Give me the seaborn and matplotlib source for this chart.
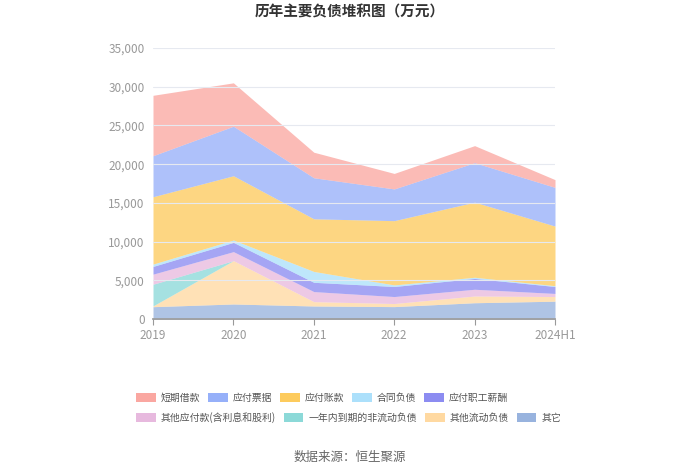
import numpy as np
import matplotlib
matplotlib.use("Agg")
import matplotlib.pyplot as plt
import seaborn as sns
from matplotlib.ticker import FuncFormatter
from matplotlib.patches import Patch

years = ["2019", "2020", "2021", "2022", "2023", "2024H1"]

# stacked bottom -> top, 单位: 万元
qita = [1590, 1940, 1680, 1600, 2100, 2300]
qita_liudong = [100, 5600, 560, 400, 870, 600]
yinian_daoqi = [2800, 0, 0, 0, 0, 0]
qita_yingfu = [1300, 1160, 1300, 900, 870, 400]
zhigong_xinchou = [1000, 1200, 1200, 1300, 1400, 900]
hetong_fuzhai = [300, 300, 1400, 200, 150, 100]
yingfu_zhangkuan = [8700, 8300, 6800, 8300, 9700, 7700]
yingfu_piaoju = [5300, 6400, 5300, 4100, 5100, 5000]
duanqi_jiekuan = [7800, 5600, 3300, 2000, 2200, 1000]

series = [qita, qita_liudong, yinian_daoqi, qita_yingfu, zhigong_xinchou,
          hetong_fuzhai, yingfu_zhangkuan, yingfu_piaoju, duanqi_jiekuan]
names = ["其它", "其他流动负债", "一年内到期的非流动负债", "其他应付款(含利息和股利)",
         "应付职工薪酬", "合同负债", "应付账款", "应付票据", "短期借款"]
colors = ["#7EA0D6", "#FFD08A", "#6FD0CF", "#E2A8D6", "#6F6FEE",
          "#97D9FA", "#FDBE35", "#7C9CF8", "#F9918A"]

sns.set_theme(style="white")
plt.rcParams["font.family"] = ["Noto Sans CJK SC", "DejaVu Sans"]

fig = plt.figure(figsize=(7, 4.73), dpi=100)
ax = fig.add_axes([153 / 700, 1 - 319 / 473, (555 - 153) / 700, (319 - 48) / 473])

x = np.arange(len(years))
ax.stackplot(x, *series, colors=colors, alpha=0.62, linewidth=0)

ax.set_xlim(0, len(years) - 1)
ax.set_ylim(0, 35000)
ax.set_yticks(range(0, 35001, 5000))
ax.yaxis.set_major_formatter(FuncFormatter(lambda v, p: f"{int(v):,}"))
ax.set_xticks(x)
ax.set_xticklabels(years)
ax.grid(axis="y", color="#E6E9F0", linewidth=0.8)
ax.set_axisbelow(False)
for s in ["top", "right", "left"]:
    ax.spines[s].set_visible(False)
ax.spines["bottom"].set_color("#999999")
ax.tick_params(axis="x", colors="#999999", labelsize=8.5, length=4, direction="out",
               bottom=True, width=0.8)
ax.tick_params(axis="y", colors="#999999", labelsize=8.5, length=0, pad=6)
for t in ax.get_xticklabels() + ax.get_yticklabels():
    t.set_color("#999999")

fig.text(0.5, 1 - 11 / 473, "历年主要负债堆积图（万元）", ha="center", va="center",
         fontsize=10.5, fontweight="bold", color="#333333")

order_row1 = [8, 7, 6, 5, 4]
order_row2 = [3, 2, 1, 0]
for row, (order, ypos) in enumerate([(order_row1, 1 - 389 / 473), (order_row2, 1 - 408 / 473)]):
    handles = [Patch(facecolor=colors[i], alpha=0.8, edgecolor="none", label=names[i]) for i in order]
    fig.legend(handles=handles, loc="upper left", bbox_to_anchor=(132 / 700, ypos),
               ncol=len(handles), frameon=False, fontsize=7.1, handlelength=2.0,
               handleheight=1.0, columnspacing=0.8, handletextpad=0.5,
               labelcolor="#555555", borderaxespad=0)

fig.text(0.5, 1 - 457 / 473, "数据来源：恒生聚源", ha="center", va="center",
         fontsize=9, color="#666666")

fig.savefig("out.png", dpi=100)
